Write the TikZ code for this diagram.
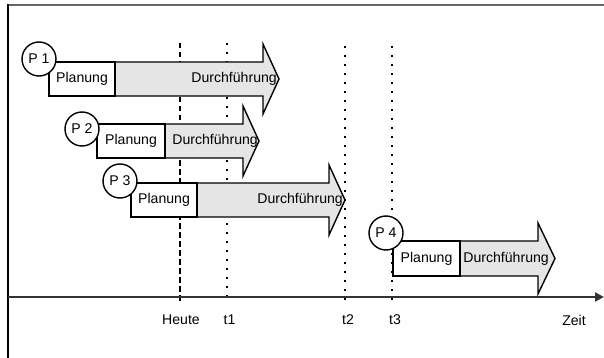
\documentclass[tikz,border=0pt]{standalone}
\usepackage{fontspec}
\setmainfont{Liberation Sans}
\usetikzlibrary{arrows.meta}
\tikzset{
  txt/.style={font=\fontsize{14.1}{15}\selectfont, text=black, inner sep=0pt},
  durch/.style={fill=black!10, draw=black, line width=1.4pt, line join=miter},
  plan/.style={fill=white, draw=black, line width=1.4pt},
  pcirc/.style={circle, draw=black, fill=white, line width=1.4pt, minimum size=34pt, inner sep=0pt, font=\fontsize{14.1}{15}\selectfont},
  heuteline/.style={line width=2.6pt, dash pattern=on 5.5pt off 3.5pt},
  tline/.style={line width=1.6pt, dash pattern=on 2pt off 7pt},
}
% #1 id, #2 cx, #3 cy, #4 x0, #5 x1, #6 top, #7 bot, #8 headbase, #9 tip
\newcommand{\projarrow}[9]{%
  \draw[durch] (#4,#6) -- (#8,#6) -- (#8,#6-18) -- (#9,{(#6+#7)/2}) -- (#8,#7+18) -- (#8,#7) -- (#4,#7) -- cycle;
  \draw[plan] (#4,#6) rectangle (#5,#7);
  \node[txt] (plan#1) at ({(#4+#5)/2},{(#6+#7)/2}) {Planung};
  \node[pcirc] (circ#1) at (#2,#3) {P #1};
}
\begin{document}
\begin{tikzpicture}[x=1pt,y=-1pt]
\useasboundingbox (0,0) rectangle (604,358);
% frame
\draw[black!60, line width=2pt] (8,5) -- (604,5);
\draw[black, line width=1.5pt] (8,4) -- (8,358);
% time lines
\coordinate (heuteT) at (180,43); \coordinate (heuteB) at (180,303);
\coordinate (t1T) at (227,43); \coordinate (t1B) at (227,301);
\coordinate (t2T) at (345,46); \coordinate (t2B) at (345,301);
\coordinate (t3T) at (392,46); \coordinate (t3B) at (392,301);
\draw[heuteline] (heuteT) -- (heuteB);
\draw[tline] (t1T) -- (t1B);
\draw[tline] (t2T) -- (t2B);
\draw[tline] (t3T) -- (t3B);
% axis
\coordinate (axL) at (8,297); \coordinate (axR) at (604,297);
\draw[black!80, line width=2pt, -{Triangle[length=9pt,width=9pt]}] (axL) -- (axR);
% projects
\projarrow{1}{39}{59}{49}{115}{62}{96}{263}{279}
\node[txt, anchor=east] (d1) at (277,79) {Durchführung};
\projarrow{2}{82}{129}{97}{165}{124}{158}{243}{259}
\node[txt, anchor=east] (d2) at (258,141) {Durchführung};
\projarrow{3}{120}{181}{131}{197}{183}{217}{329}{345}
\node[txt, anchor=east] (d3) at (343,200) {Durchführung};
\projarrow{4}{386}{233}{393}{460}{241}{276}{538}{555}
\node[txt, anchor=east] (d4) at (549,258.5) {Durchführung};
% labels
\node[txt] (heute) at (181,320) {Heute};
\node[txt] (lt1) at (229.5,320) {t1};
\node[txt] (lt2) at (348,320) {t2};
\node[txt] (lt3) at (395,320) {t3};
\node[txt] (zeit) at (574,320) {Zeit};
\end{tikzpicture}
\end{document}
